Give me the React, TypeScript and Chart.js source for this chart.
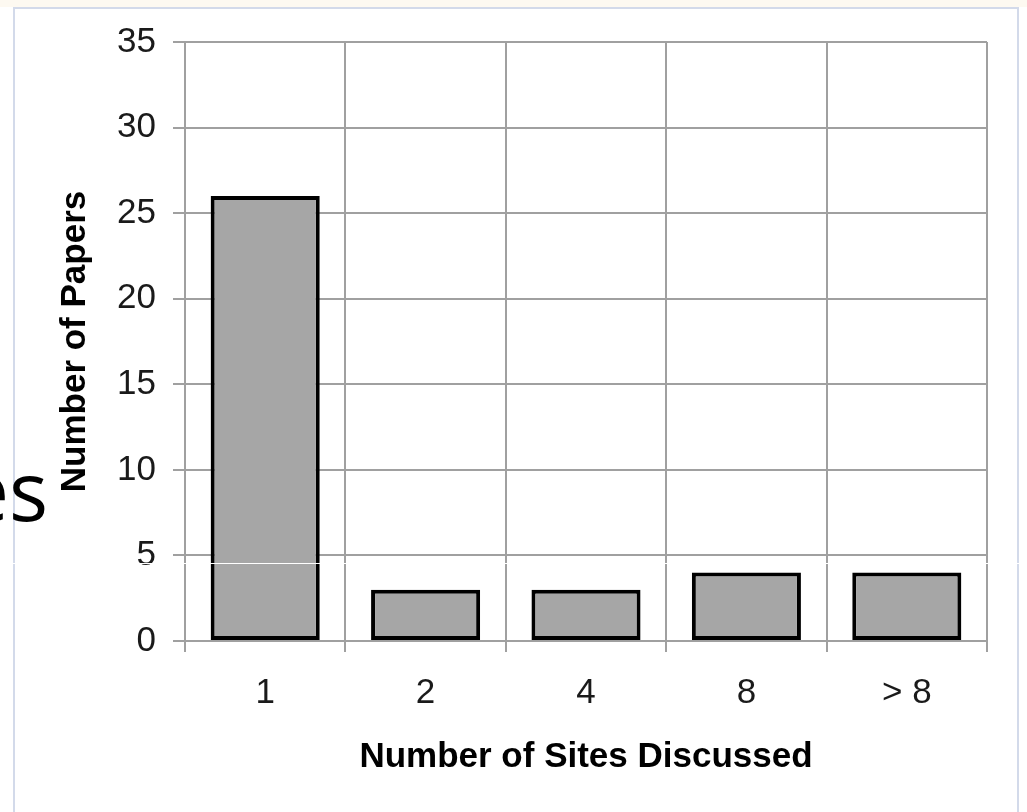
import React, { useEffect, useRef } from "react";
import { Chart, registerables } from "chart.js";

Chart.register(...registerables);

const categories = ["1", "2", "4", "8", "> 8"];
const papers = [26, 3, 3, 4, 4];
const yMin = 0;
const yMax = 35;
const yStep = 5;
const xTitle = "Number of Sites Discussed";
const yTitle = "Number of Papers";
const sideText = "es";

const FONT = "'Liberation Sans', Arial, sans-serif";
const GRID = "#a0a0a0";

export default function App() {
  const canvasRef = useRef<HTMLCanvasElement | null>(null);

  useEffect(() => {
    const canvas = canvasRef.current;
    if (!canvas) return;
    const chart = new Chart(canvas, {
      type: "bar",
      data: {
        labels: categories,
        datasets: [
          {
            data: papers,
            backgroundColor: "#a6a6a6",
            borderColor: "#000000",
            borderWidth: 4,
            borderSkipped: false,
            categoryPercentage: 1,
            barPercentage: 0.68,
          },
        ],
      },
      options: {
        responsive: false,
        animation: false,
        events: [],
        layout: { padding: { top: 42, right: 40, left: 0, bottom: 0 } },
        plugins: {
          legend: { display: false },
          tooltip: { enabled: false },
          title: { display: false },
        },
        scales: {
          x: {
            grid: {
              color: GRID,
              lineWidth: 2,
              offset: true,
              tickLength: 11,
              drawOnChartArea: true,
            },
            border: { color: GRID, width: 2 },
            ticks: {
              color: "#1a1a1a",
              font: { family: FONT, size: 35 },
              padding: 20,
              maxRotation: 0,
              autoSkip: false,
            },
            title: {
              display: true,
              text: xTitle,
              color: "#000",
              font: { family: FONT, size: 35, weight: "bold" },
              padding: { top: 0, bottom: 34 },
            },
            afterFit: (scale: any) => {
              scale.height = 171;
            },
          },
          y: {
            min: yMin,
            max: yMax,
            grid: { color: GRID, lineWidth: 2, tickLength: 12 },
            border: { color: GRID, width: 2 },
            ticks: {
              stepSize: yStep,
              color: "#1a1a1a",
              font: { family: FONT, size: 35 },
              padding: 17,
            },
            title: {
              display: true,
              text: yTitle,
              color: "#000",
              font: { family: FONT, size: 35, weight: "bold" },
              padding: { top: 54, bottom: 0 },
            },
            afterFit: (scale: any) => {
              scale.width = 185;
            },
          },
        },
      },
    });
    return () => chart.destroy();
  }, []);

  return (
    <div
      style={{
        position: "fixed",
        left: 0,
        top: 0,
        width: 1027,
        height: 812,
        background: "#ffffff",
        overflow: "hidden",
      }}
    >
      <div
        style={{
          position: "absolute",
          left: 0,
          top: 0,
          width: 1027,
          height: 7,
          background: "#fdf9f1",
        }}
      />
      <div
        style={{
          position: "absolute",
          left: 13,
          top: 7,
          width: 1006,
          height: 820,
          borderLeft: "2px solid #d3daea",
          borderTop: "2px solid #d3daea",
          borderRight: "2px solid #d3daea",
          boxSizing: "border-box",
        }}
      />
      <canvas
        ref={canvasRef}
        width={1027}
        height={812}
        style={{ position: "absolute", left: 0, top: 0, width: 1027, height: 812 }}
      />
      <div
        style={{
          position: "absolute",
          right: 1027 - 48,
          top: 448,
          fontFamily: "'Open Sans', 'Noto Sans', sans-serif",
          fontSize: 82,
          fontStyle: "normal",
          lineHeight: "82px",
          color: "#000",
          whiteSpace: "nowrap",
        }}
      >
        {sideText}
      </div>
      <div
        style={{
          position: "absolute",
          left: 0,
          top: 563,
          width: 1027,
          height: 1,
          background: "#ffffff",
        }}
      />
    </div>
  );
}
